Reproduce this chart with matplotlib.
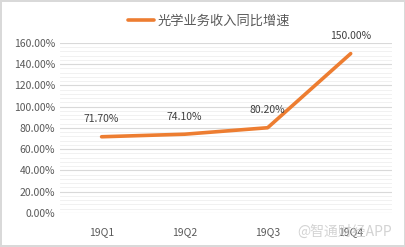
import matplotlib.pyplot as plt
import numpy as np
from matplotlib.ticker import MultipleLocator, FuncFormatter

plt.rcParams['font.family'] = ['Noto Sans CJK SC', 'DejaVu Sans']

# --- Data ---
quarters = ["19Q1", "19Q2", "19Q3", "19Q4"]
growth = [71.70, 74.10, 80.20, 150.00]
series_name = "光学业务收入同比增速"

# --- Plot ---
fig = plt.figure(figsize=(4.06, 2.47), dpi=100)
fig.patch.set_edgecolor("#d9d9d9")
fig.patch.set_linewidth(1.5)
ax = fig.add_axes([0.148, 0.138, 0.818, 0.688])

x = np.arange(len(quarters))
ax.plot(x, growth, color="#ED7D31", linewidth=2.6, solid_capstyle="round",
        label=series_name)
for xi, v in zip(x, growth):
    ax.annotate(f"{v:.2f}%", (xi, v), xytext=(0, 9), textcoords="offset points",
                ha="center", va="bottom", fontsize=7.5, color="#404040")

ax.set_xlim(-0.5, len(quarters) - 0.5)
ax.set_ylim(0, 160)
ax.set_xticks(x)
ax.set_xticklabels(quarters)
ax.yaxis.set_major_locator(MultipleLocator(20))
ax.yaxis.set_minor_locator(MultipleLocator(4))
ax.yaxis.set_major_formatter(FuncFormatter(lambda v, p: f"{v:.2f}%"))
ax.grid(axis="y", which="major", color="#d9d9d9", linewidth=0.8)
ax.grid(axis="y", which="minor", color="#efefef", linewidth=0.6)
ax.set_axisbelow(True)
ax.tick_params(axis="both", which="both", length=0, labelsize=7.5,
               labelcolor="#595959")
ax.tick_params(axis="x", pad=10)
for s in ax.spines.values():
    s.set_visible(False)

fig.legend(loc="upper center", bbox_to_anchor=(0.515, 0.99), frameon=False,
           fontsize=9.5, handlelength=2.0, handletextpad=0.3,
           labelcolor="#595959")

# watermark
fig.text(0.965, 0.06, "@智通财经APP", ha="right", va="center", fontsize=10,
         color="#c8c8c8", alpha=0.8)

fig.savefig("out.png", dpi=100)
plt.close()
